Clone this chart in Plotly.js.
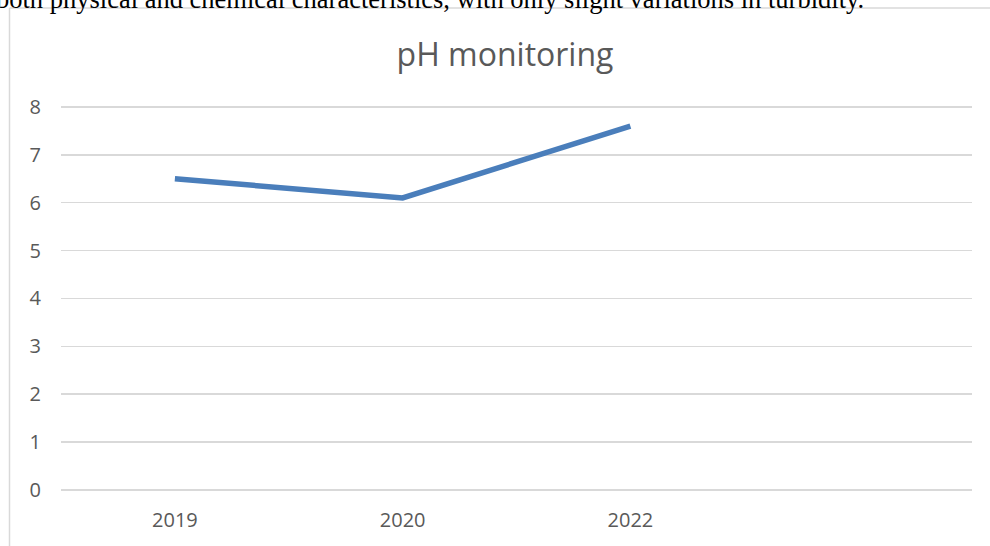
<!DOCTYPE html>
<html>
<head>
<meta charset="utf-8">
<script src="https://cdn.plot.ly/plotly-3.0.1.min.js"></script>
<style>
html,body{margin:0;padding:0;background:#fff;}
#chart{width:990px;height:546px;}
</style>
</head>
<body>
<div id="chart"></div>
<script>
const categories = ["2019", "2020", "2022", ""];
const phValues = [6.5, 6.1, 7.6];
const yTicks = [0, 1, 2, 3, 4, 5, 6, 7, 8];
const chartTitle = "pH monitoring";
const docText = "both physical and chemical characteristics, with only slight variations in turbidity.";

const W = 990, H = 546;
const yMax = 8.04;
const unitPx = (490 - 107) / 8;
const L = 61, R = 18, B = 56;
const T = 490 - yMax * unitPx;
const pw = W - L - R, ph = H - T - B;
const px = v => (v - L) / pw;
const py = v => (H - B - v) / ph;

const catIdx = categories.map((c, i) => i);

const trace = {
  x: catIdx.slice(0, phValues.length),
  y: phValues,
  type: 'scatter',
  mode: 'lines',
  line: {color: '#4a7ebb', width: 5.5},
  hoverinfo: 'skip',
  showlegend: false
};

const layout = {
  width: W, height: H,
  margin: {l: L, r: R, t: T, b: B},
  paper_bgcolor: '#fff',
  plot_bgcolor: '#fff',
  title: {
    text: chartTitle,
    font: {family: 'Open Sans, sans-serif', size: 32, color: '#595959'},
    xref: 'container', x: 505 / W, xanchor: 'center',
    yref: 'container', y: 1 - 55 / H, yanchor: 'middle'
  },
  xaxis: {
    range: [-0.5, categories.length - 0.5],
    tickvals: catIdx,
    ticktext: categories,
    showgrid: false,
    zeroline: false,
    showline: false,
    ticks: 'outside', ticklen: 12, tickcolor: 'rgba(0,0,0,0)',
    tickfont: {family: 'Open Sans, sans-serif', size: 20, color: '#595959'},
    fixedrange: true
  },
  yaxis: {
    range: [0, yMax],
    tickvals: yTicks,
    showgrid: true,
    gridcolor: '#d9d9d9',
    gridwidth: 1.5,
    zeroline: true,
    zerolinecolor: '#d9d9d9',
    zerolinewidth: 1.5,
    showline: false,
    ticks: 'outside', ticklen: 15, tickcolor: 'rgba(0,0,0,0)',
    tickfont: {family: 'Open Sans, sans-serif', size: 20, color: '#595959'},
    fixedrange: true
  },
  shapes: [
    {type: 'line', xref: 'paper', yref: 'paper', x0: px(9.5), x1: px(9.5), y0: py(8), y1: py(560), line: {color: '#d9d9d9', width: 1.5}},
    {type: 'line', xref: 'paper', yref: 'paper', x0: px(9.5), x1: px(1000), y0: py(8), y1: py(8), line: {color: '#d9d9d9', width: 1.5}}
  ],
  annotations: [
    {text: docText, xref: 'paper', yref: 'paper', x: px(-6), xanchor: 'left',
     y: py(16), yanchor: 'bottom', showarrow: false,
     font: {family: 'Liberation Serif, Times New Roman, serif', size: 26.5, color: '#000'}}
  ]
};

Plotly.newPlot('chart', [trace], layout, {displayModeBar: false, staticPlot: true});
</script>
</body>
</html>
